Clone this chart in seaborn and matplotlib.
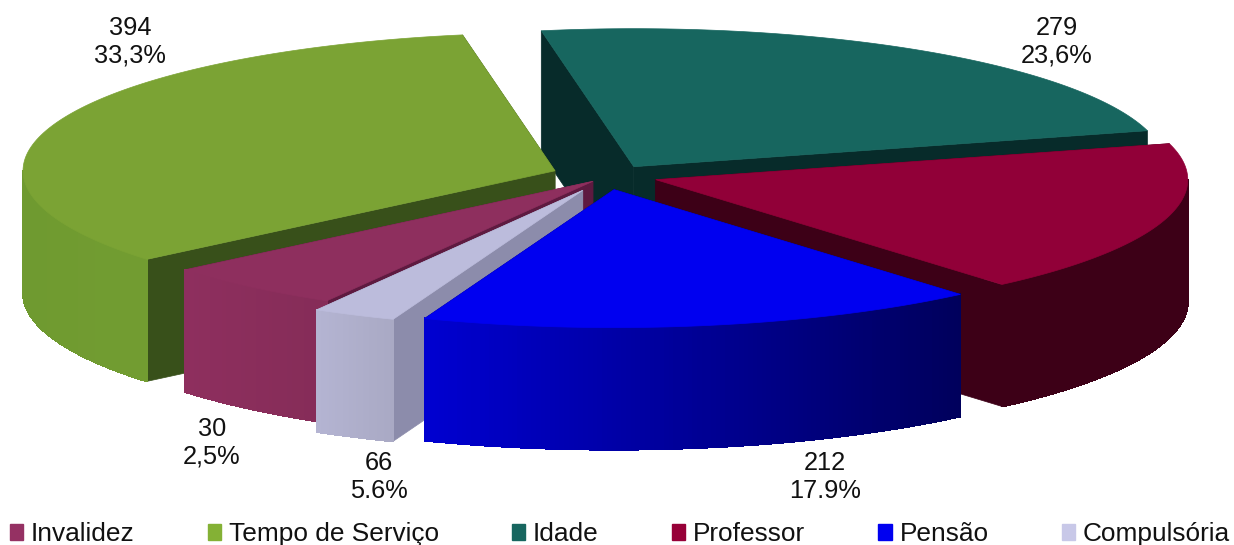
import numpy as np
import matplotlib
matplotlib.use("Agg")
import matplotlib.pyplot as plt
import seaborn as sns
from matplotlib.patches import Patch, Polygon

categories = ["Invalidez", "Tempo de Serviço", "Idade", "Professor", "Pensão", "Compulsória"]
values = [66, 394, 279, 212, 202, 30]
explode = [0.05, 0.11, 0.08, 0.09, 0.10, 0.115]
nudge_x = [0, 0, 1, 0, -5, -1]

top_colors = ["#8e2f5e", "#7ba334", "#17665f", "#910038", "#0000f0", "#bcbcdc"]
legend_colors = ["#953163", "#84b135", "#17665f", "#970038", "#0000f0", "#c8c8e8"]
side_left = ["#8e2f5e", "#6f9a30", "#072b2a", "#3d0017", "#0000d0", "#b4b4d2"]
side_right = ["#852c58", "#7ba334", "#072b2a", "#3d0017", "#00005c", "#a9a9c4"]
cut_colors = ["#5e1a40", "#38501a", "#072b2a", "#3d0017", "#000060", "#8c8cab"]

# text, x, y of the two line data labels
label_text = ["394\n33,3%", "279\n23,6%", "212\n17.9%", "66\n5.6%", "30\n2,5%"]
label_x = [130, 1057, 825, 379, 212]
label_y = [42, 42, 477, 477, 443]

CX, CY = 610, 176
RX, RY, DEPTH = 532, 138, 122
START = 210
DRAW_ORDER = [2, 1, 3, 0, 5, 4]


def rim(theta, apex):
    rad = np.deg2rad(theta)
    return np.column_stack([apex[0] + RX * np.sin(rad), apex[1] - RY * np.cos(rad)])


def draw_wedge(ax, i, a0, a1):
    mid = np.deg2rad((a0 + a1) / 2)
    apex = (CX + nudge_x[i] + explode[i] * RX * np.sin(mid), CY - explode[i] * RY * np.cos(mid))
    drop = np.array([0, DEPTH])
    arc = rim(np.linspace(a0, a1, 121), apex)

    # cut faces, then the rim in strips so it can carry a gradient
    for edge in (arc[0], arc[-1]):
        face = [apex, edge, edge + drop, np.array(apex) + drop]
        ax.add_patch(Polygon(face, closed=True, fc=cut_colors[i], ec=cut_colors[i], lw=0.5))
    shades = sns.blend_palette([side_left[i], side_right[i]], n_colors=len(arc) - 1)
    lo, hi = arc[:, 0].min(), arc[:, 0].max()
    for p, q in zip(arc[:-1], arc[1:]):
        # only the front half of the rim can be seen
        if p[1] < apex[1] and q[1] < apex[1]:
            continue
        t = ((p[0] + q[0]) / 2 - lo) / max(hi - lo, 1)
        c = shades[min(int(t * len(shades)), len(shades) - 1)]
        ax.add_patch(Polygon([p, q, q + drop, p + drop], closed=True, fc=c, ec=c, lw=0.8, antialiased=False))
    ax.add_patch(Polygon(np.vstack([apex, arc]), closed=True, fc=top_colors[i], ec=top_colors[i], lw=0.5))


sns.set_theme(style="white")
plt.rcParams["font.family"] = ["Liberation Sans"]
fig = plt.figure(figsize=(12.34, 5.45), dpi=100)
ax = fig.add_axes([0, 0, 1, 1])
ax.set_xlim(0, 1234)
ax.set_ylim(545, 0)
ax.axis("off")

ends = START + np.cumsum(values) / np.sum(values) * 360
starts = np.r_[START, ends[:-1]]
for i in DRAW_ORDER:
    draw_wedge(ax, i, starts[i], ends[i])

for txt, x, y in zip(label_text, label_x, label_y):
    ax.text(x, y, txt, ha="center", va="center", fontsize=18.3, color="#111111", linespacing=1.2)

handles = [Patch(fc=c, ec=c) for c in legend_colors]
ax.legend(handles, categories, ncol=6, loc="lower left", bbox_to_anchor=(0.008, -0.002),
          frameon=False, fontsize=18.9, handlelength=0.5, handleheight=0.58,
          handletextpad=0.3, columnspacing=2.79, labelcolor="#111111", borderaxespad=0, borderpad=0)

fig.savefig("out.png", dpi=100)
